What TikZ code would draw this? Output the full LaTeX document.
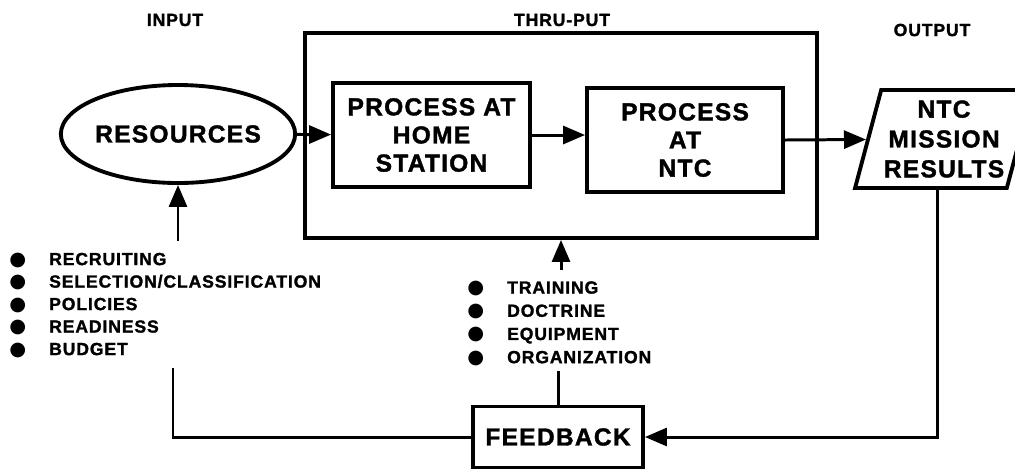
\documentclass[tikz,border=0pt]{standalone}
\usepackage{fontspec}
\setmainfont{Liberation Sans}[LetterSpace=5, BoldFeatures={FakeBold=1.5}]
\newfontfamily\dotfont{DejaVu Sans}
\usetikzlibrary{arrows.meta,shapes.geometric}
\newcommand{\blt}{{\dotfont\fontsize{11}{11}\selectfont ●}}
\begin{document}
\begin{tikzpicture}[x=0.2mm,y=-0.2mm,
  box/.style={draw, line width=2.2pt, inner sep=0pt, align=center, font=\fontsize{14}{16}\selectfont\bfseries},
  flow/.style={line width=1.7pt, -{Triangle[length=4.4mm,width=3.6mm]}},
  link/.style={line width=1.7pt},
  head/.style={font=\fontsize{10}{12}\selectfont\bfseries},
  lst/.style={anchor=north west, inner sep=0pt, align=left}]
\useasboundingbox (0,0) rectangle (1015,472);
% column headings
\node [head] (inp) at (175,20) {INPUT};
\node [head] (thr) at (562,20) {THRU-PUT};
\node [head] (outp) at (932,30) {OUTPUT};
% main chain
\node [draw, line width=2.2pt, minimum width=102.4mm, minimum height=41mm] (thru) at (561,135.5) {};
\node [box, ellipse, minimum width=36.8mm, minimum height=19.6mm] (res) at (178,134) {RESOURCES};
\node [box, minimum width=39.4mm, minimum height=20.8mm] (home) at (431.5,135) {PROCESS AT\\HOME\\STATION};
\node [box, minimum width=39.2mm, minimum height=20.8mm] (ntc) at (685,140) {PROCESS\\AT\\NTC};
\node [box, trapezium, trapezium left angle=72, trapezium right angle=108, trapezium stretches=true,
       minimum width=35.6mm, minimum height=19.6mm, font=\fontsize{14}{17}\selectfont\bfseries] (result) at (944,139) {NTC\\MISSION\\RESULTS};
\node [box, minimum width=34mm, minimum height=12.2mm] (fb) at (558,437) {FEEDBACK};
% bullet lists
\node [lst, font=\fontsize{10}{12.8}\selectfont\bfseries] (lin) at (9,249) {%
  \begin{tabular}{@{}l@{\hspace{4.6mm}}l@{}}
  \blt & RECRUITING\\
  \blt & SELECTION/CLASSIFICATION\\
  \blt & POLICIES\\
  \blt & READINESS\\
  \blt & BUDGET
  \end{tabular}};
\node [lst, font=\fontsize{10}{13.2}\selectfont\bfseries] (mid) at (467,277) {%
  \begin{tabular}{@{}l@{\hspace{4.6mm}}l@{}}
  \blt & TRAINING\\
  \blt & DOCTRINE\\
  \blt & EQUIPMENT\\
  \blt & ORGANIZATION
  \end{tabular}};
\coordinate (back) at (173,368);
% connectors
\draw [flow] (res) -- (home);
\draw [flow] (home.east) -- (home.east -| ntc.west);
\draw [flow] (ntc.east) -- (result);
\draw [flow] ([yshift=1.6mm]res.south |- lin.north) -- (res.south);
\draw [flow] ([yshift=1.4mm]thru.south |- mid.north) -- (thru.south);
\draw [link] (mid.south -| fb.north) -- (fb.north);
\draw [link] (fb.west) -| (back);
\draw [flow] ([xshift=-1.4mm]result.south) |- (fb.east);
\end{tikzpicture}
\end{document}
